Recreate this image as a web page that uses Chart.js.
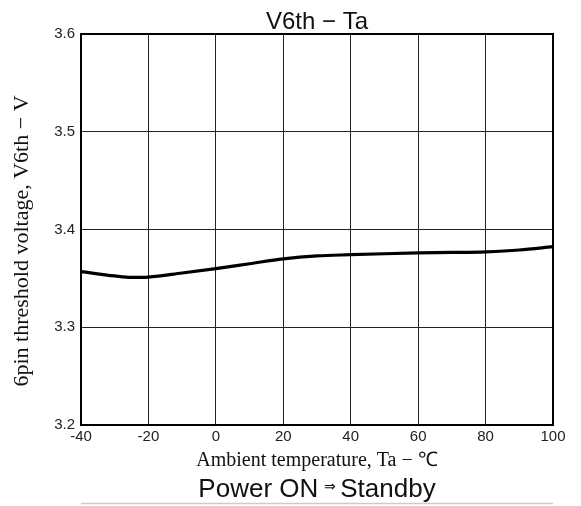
<!DOCTYPE html>
<html>
<head>
<meta charset="utf-8">
<script src="https://cdn.jsdelivr.net/npm/chart.js@4/dist/chart.umd.min.js"></script>
<style>
  html, body { margin: 0; padding: 0; background: #fff; }
  #wrap { width: 581px; height: 506px; }
</style>
</head>
<body>
<div id="wrap"><canvas id="grafico"></canvas></div>
<script>
// datos
const temperaturas = [-40, -30, -25, -20, -10, 0, 10, 20, 30, 40, 50, 60, 70, 80, 90, 100];
const voltajes = [3.357, 3.3525, 3.351, 3.3513, 3.3555, 3.360, 3.365, 3.370, 3.373, 3.3742, 3.3752, 3.376, 3.3765, 3.3772, 3.379, 3.3824];
const tituloGrafico = 'V6th \u2212 Ta';
const tituloX = 'Ambient temperature, Ta \u2212 \u2103';
const tituloY = '6pin threshold voltage, V6th \u2212 V';
const notaPie = ['Power ON', '\u21D2', 'Standby'];

const SANS = '"Liberation Sans", Arial, Helvetica, sans-serif';
const SERIF = '"Liberation Serif", "Times New Roman", serif';

const textosExtra = {
    id: 'textosExtra',
    afterDraw(chart) {
        const ctx = chart.ctx;
        const a = chart.chartArea;
        const cx = (a.left + a.right) / 2;
        ctx.save();
        // marco del área
        ctx.strokeStyle = '#000';
        ctx.lineWidth = 2;
        ctx.strokeRect(a.left, a.top, a.right - a.left, a.bottom - a.top);
        // título
        ctx.fillStyle = '#111';
        ctx.textBaseline = 'alphabetic';
        ctx.textAlign = 'center';
        ctx.font = '24px ' + SANS;
        ctx.fillText(tituloGrafico, cx, 29);
        // título del eje Y
        ctx.save();
        ctx.translate(22, 241);
        ctx.rotate(-Math.PI / 2);
        ctx.textBaseline = 'middle';
        ctx.font = '22px ' + SERIF;
        ctx.fillText(tituloY, 0, 0);
        ctx.restore();
        // nota inferior
        ctx.textAlign = 'left';
        ctx.font = '26px ' + SANS;
        const w0 = ctx.measureText(notaPie[0]).width;
        const w2 = ctx.measureText(notaPie[2]).width;
        ctx.font = '14px ' + SANS;
        const w1 = ctx.measureText(notaPie[1]).width;
        const total = w0 + 6 + w1 + 4 + w2;
        let x = cx - total / 2;
        ctx.font = '26px ' + SANS;
        ctx.fillText(notaPie[0], x, 497);
        ctx.font = '14px ' + SANS;
        ctx.textBaseline = 'middle';
        ctx.fillText(notaPie[1], x + w0 + 6, 487);
        ctx.textBaseline = 'alphabetic';
        ctx.font = '26px ' + SANS;
        ctx.fillText(notaPie[2], x + w0 + 6 + w1 + 4, 497);
        // línea gris
        ctx.strokeStyle = '#cccccc';
        ctx.lineWidth = 1.5;
        ctx.beginPath();
        ctx.moveTo(a.left, 503.5);
        ctx.lineTo(a.right, 503.5);
        ctx.stroke();
        ctx.restore();
    }
};

new Chart(document.getElementById('grafico').getContext('2d'), {
    type: 'line',
    data: {
        datasets: [{
            data: temperaturas.map((t, i) => ({ x: t, y: voltajes[i] })),
            borderColor: '#000',
            borderWidth: 3.2,
            pointRadius: 0,
            fill: false,
            cubicInterpolationMode: 'monotone'
        }]
    },
    options: {
        responsive: true,
        maintainAspectRatio: false,
        animation: false,
        layout: { padding: { top: 34, right: 28, left: 0, bottom: 0 } },
        plugins: {
            legend: { display: false },
            title: { display: false },
            tooltip: { enabled: false }
        },
        scales: {
            x: {
                type: 'linear',
                min: -40,
                max: 100,
                afterFit: s => { s.height = 81; },
                grid: { color: '#222', lineWidth: 1, drawTicks: false },
                border: { display: false },
                ticks: {
                    stepSize: 20,
                    padding: 3,
                    color: '#222',
                    font: { family: SANS, size: 15 },
                    maxRotation: 0
                },
                title: {
                    display: true,
                    text: tituloX,
                    color: '#111',
                    font: { family: SERIF, size: 20 },
                    padding: { top: 0, bottom: 33 }
                }
            },
            y: {
                min: 3.2,
                max: 3.6,
                afterFit: s => { s.width = 81; },
                grid: { color: '#222', lineWidth: 1, drawTicks: false },
                border: { display: false },
                ticks: {
                    stepSize: 0.1,
                    padding: 6,
                    color: '#222',
                    font: { family: SANS, size: 15 },
                    callback: v => v.toFixed(1)
                }
            }
        }
    },
    plugins: [textosExtra]
});
</script>
</body>
</html>
